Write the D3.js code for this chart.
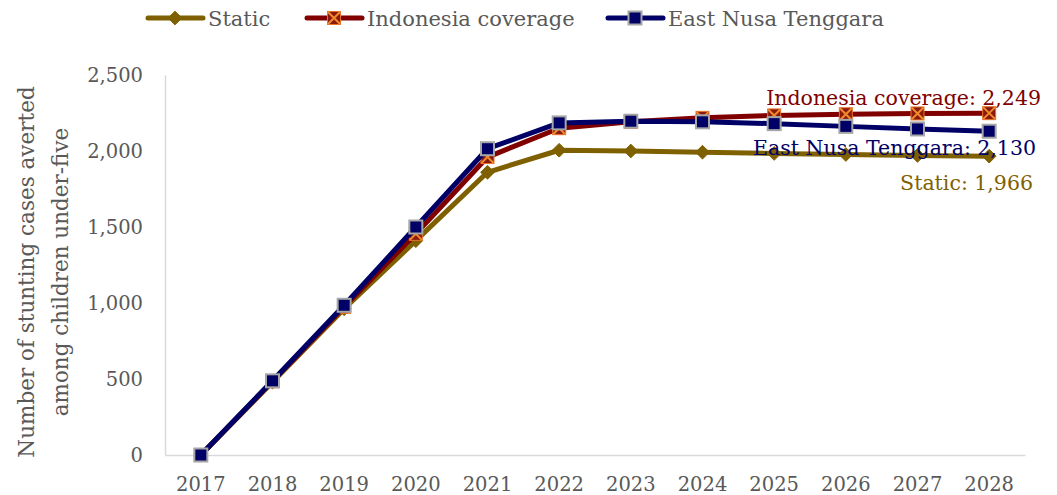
<!DOCTYPE html>
<html>
<head>
<meta charset="utf-8">
<script src="https://cdn.jsdelivr.net/npm/d3@7"></script>
<style>
  body { margin: 0; background: #fff; }
  svg text { font-family: "DejaVu Serif", Georgia, serif; }
</style>
</head>
<body>
<div id="chart"></div>
<script>
var years = ["2017", "2018", "2019", "2020", "2021", "2022", "2023", "2024", "2025", "2026", "2027", "2028"]
var staticVals = [0, 480, 962, 1410, 1860, 2005, 2000, 1992, 1984, 1977, 1971, 1966]
var indonesiaVals = [0, 485, 975, 1455, 1960, 2150, 2192, 2218, 2234, 2242, 2247, 2249]
var entVals = [0, 488, 985, 1500, 2015, 2185, 2196, 2192, 2180, 2162, 2145, 2130]
var yTicks = [0, 500, 1000, 1500, 2000, 2500]

const layout = {
    width: 1057,
    height: 495,
    margin: { top: 75, right: 32, bottom: 40, left: 165 }
}

var series = [
    { name: "Static", values: staticVals, color: "#7f6000", marker: "diamond", label: "Static: 1,966", lx: 1033, ly: 190 },
    { name: "Indonesia coverage", values: indonesiaVals, color: "#800000", marker: "xsquare", label: "Indonesia coverage: 2,249", lx: 1041, ly: 105 },
    { name: "East Nusa Tenggara", values: entVals, color: "#000066", marker: "square", label: "East Nusa Tenggara: 2,130", lx: 1036, ly: 155 }
]

var svg = d3.select("#chart").append("svg")
    .attr("width", layout.width)
    .attr("height", layout.height)

var xScale = d3.scaleBand().domain(years)
    .range([layout.margin.left, layout.width - layout.margin.right])
var yScale = d3.scaleLinear().domain([0, 2500])
    .range([455, 75])

var xAxis = d3.axisBottom(xScale).tickSize(0).tickPadding(22)
var yAxis = d3.axisLeft(yScale).tickValues(yTicks).tickSize(0).tickPadding(22)
    .tickFormat(d3.format(","))

svg.append("g")
    .attr("transform", "translate(0,455)")
    .call(xAxis)
    .call(function(g) {
        g.select(".domain").attr("stroke", "#d9d9d9").attr("stroke-width", 1.5)
        g.selectAll(".tick text").attr("fill", "#595959").attr("font-size", 19.5)
    })

svg.append("g")
    .attr("transform", `translate(${layout.margin.left},0)`)
    .call(yAxis)
    .call(function(g) {
        g.select(".domain").attr("stroke", "#d9d9d9").attr("stroke-width", 1.5)
        g.selectAll(".tick text").attr("fill", "#595959").attr("font-size", 19.5)
    })

svg.append("text")
    .attr("transform", "translate(34,272) rotate(-90)")
    .attr("text-anchor", "middle")
    .attr("fill", "#595959")
    .attr("font-size", 21.5)
    .selectAll("tspan")
    .data(["Number of stunting cases averted", "among children under-five"])
    .join("tspan")
    .attr("x", 0)
    .attr("dy", function(d, i) { return i === 0 ? 0 : 34 })
    .text(function(d) { return d })

var line = d3.line()
    .x(function(d, i) { return xScale(years[i]) + xScale.bandwidth() / 2 })
    .y(function(d) { return yScale(d) })

function drawMarker(g, type, color, x, y) {
    if (type === "diamond") {
        g.append("path")
            .attr("d", d3.symbol().type(d3.symbolDiamond2).size(120)())
            .attr("transform", `translate(${x},${y})`)
            .attr("fill", color)
            .attr("stroke", color)
            .attr("stroke-width", 1)
    } else if (type === "xsquare") {
        g.append("rect")
            .attr("x", x - 6.5).attr("y", y - 6.5)
            .attr("width", 13).attr("height", 13)
            .attr("fill", "#8b1a0e")
            .attr("stroke", "#e8742a")
            .attr("stroke-width", 1)
        g.append("path")
            .attr("d", `M${x - 6},${y - 6}L${x + 6},${y + 6}M${x + 6},${y - 6}L${x - 6},${y + 6}`)
            .attr("stroke", "#f08a2c")
            .attr("stroke-width", 2)
    } else {
        g.append("rect")
            .attr("x", x - 6.5).attr("y", y - 6.5)
            .attr("width", 13).attr("height", 13)
            .attr("fill", "#000066")
            .attr("stroke", "#a6a6a6")
            .attr("stroke-width", 2)
    }
}

for (var s = 0; s < series.length; s++) {
    var sr = series[s]
    var g = svg.append("g")
    g.append("path")
        .datum(sr.values)
        .attr("d", line)
        .attr("fill", "none")
        .attr("stroke", sr.color)
        .attr("stroke-width", 5)
        .attr("stroke-linejoin", "round")
    for (var i = 0; i < sr.values.length; i++) {
        drawMarker(g, sr.marker, sr.color, xScale(years[i]) + xScale.bandwidth() / 2, yScale(sr.values[i]))
    }
}

// end labels
for (var s = 0; s < series.length; s++) {
    svg.append("text")
        .attr("x", series[s].lx)
        .attr("y", series[s].ly)
        .attr("text-anchor", "end")
        .attr("fill", series[s].color)
        .attr("font-size", 20.5)
        .text(series[s].label)
}

// legend
var legendX = [148, 307, 608]
for (var s = 0; s < series.length; s++) {
    var lg = svg.append("g")
    var x0 = legendX[s]
    lg.append("line")
        .attr("x1", x0).attr("x2", x0 + 55)
        .attr("y1", 18).attr("y2", 18)
        .attr("stroke", series[s].color)
        .attr("stroke-width", 5)
        .attr("stroke-linecap", "round")
    drawMarker(lg, series[s].marker, series[s].color, x0 + 27, 18)
    lg.append("text")
        .attr("x", x0 + 60)
        .attr("y", 26)
        .attr("fill", "#595959")
        .attr("font-size", 21)
        .text(series[s].name)
}
</script>
</body>
</html>
